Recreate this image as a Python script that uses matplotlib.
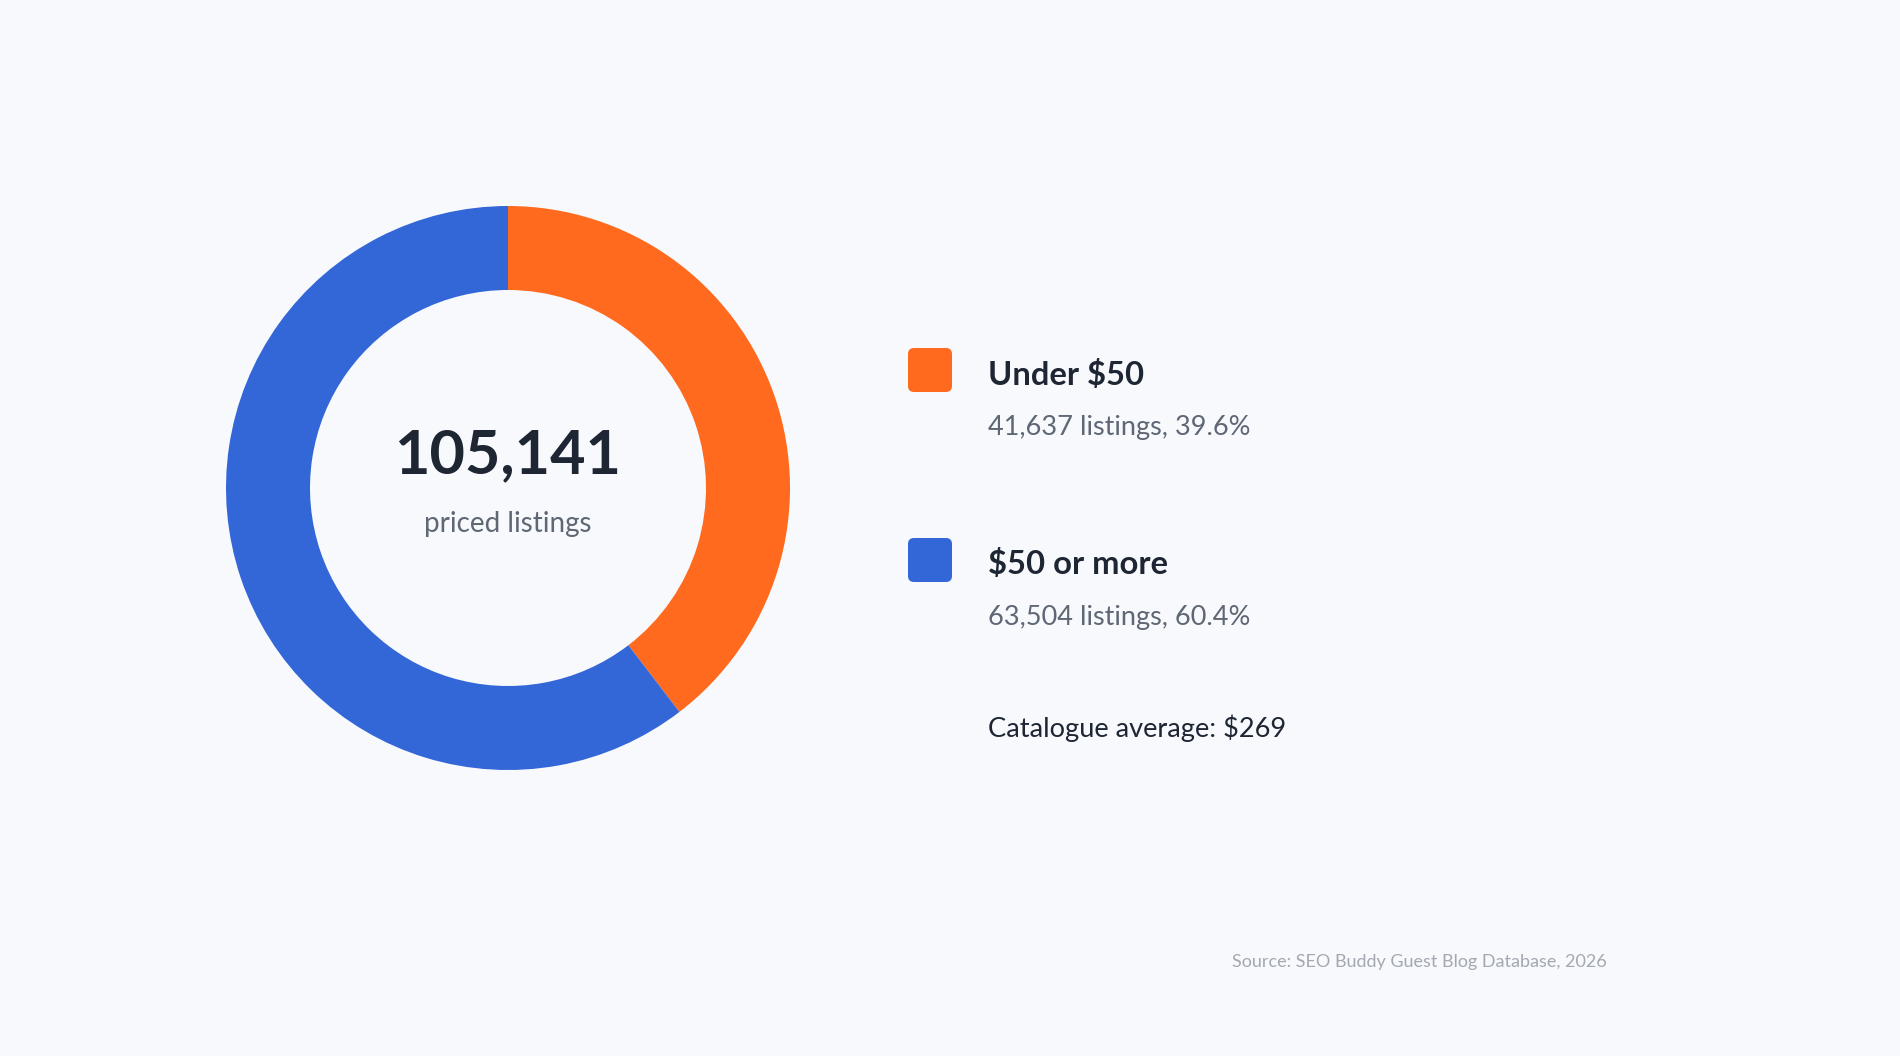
import matplotlib.pyplot as plt
from matplotlib.patches import FancyBboxPatch

# 데이터
labels = ['Under $50', '$50 or more']
counts = [41637, 63504]
shares = [39.6, 60.4]
colors = ['#FF6A1F', '#3366D6']
total = 105141
avg_price = 269
source = 'Source: SEO Buddy Guest Blog Database, 2026'

plt.rcParams['font.family'] = ['Lato', 'DejaVu Sans']

W, H = 1900, 1056
bg = '#F7F9FC'
fig = plt.figure(figsize=(W / 100, H / 100), dpi=100, facecolor=bg)
ax = fig.add_axes([0, 0, 1, 1])
ax.set_facecolor(bg)
ax.set_xlim(0, W)
ax.set_ylim(0, H)
ax.set_aspect('equal')
ax.axis('off')

# 도넛 차트
cx, cy, r = 508, H - 488, 282
ax.pie(counts, colors=colors, startangle=90, counterclock=False,
       center=(cx, cy), radius=r, wedgeprops=dict(width=r - 198, linewidth=0))
ax.set_xlim(0, W)
ax.set_ylim(0, H)

# 가운데 텍스트
ax.text(cx, H - 473, f'{total:,}', ha='center', va='baseline',
        fontsize=44, fontweight='bold', color='#1E2533')
ax.text(cx, H - 532, 'priced listings', ha='center', va='baseline',
        fontsize=20, color='#5F6775')

# 범례
sq_x, sq = 908, 44
rows = [(348, 385, 435), (538, 574, 625)]
for (sq_top, title_y, sub_y), lab, n, s, c in zip(rows, labels, counts, shares, colors):
    ax.add_patch(FancyBboxPatch((sq_x, H - sq_top - sq), sq, sq,
                                boxstyle='round,pad=0,rounding_size=6',
                                facecolor=c, edgecolor='none'))
    ax.text(988, H - title_y, lab, ha='left', va='baseline',
            fontsize=23.6, fontweight='bold', color='#1E2533')
    ax.text(988, H - sub_y, f'{n:,} listings, {s}%', ha='left', va='baseline',
            fontsize=19.5, color='#5F6775')

ax.text(988, H - 737, f'Catalogue average: ${avg_price}', ha='left', va='baseline',
        fontsize=19.6, color='#1E2533')

ax.text(1607, H - 967, source, ha='right', va='baseline',
        fontsize=13, color='#A3A8B2')

plt.savefig('out.png', dpi=100, facecolor=bg)
